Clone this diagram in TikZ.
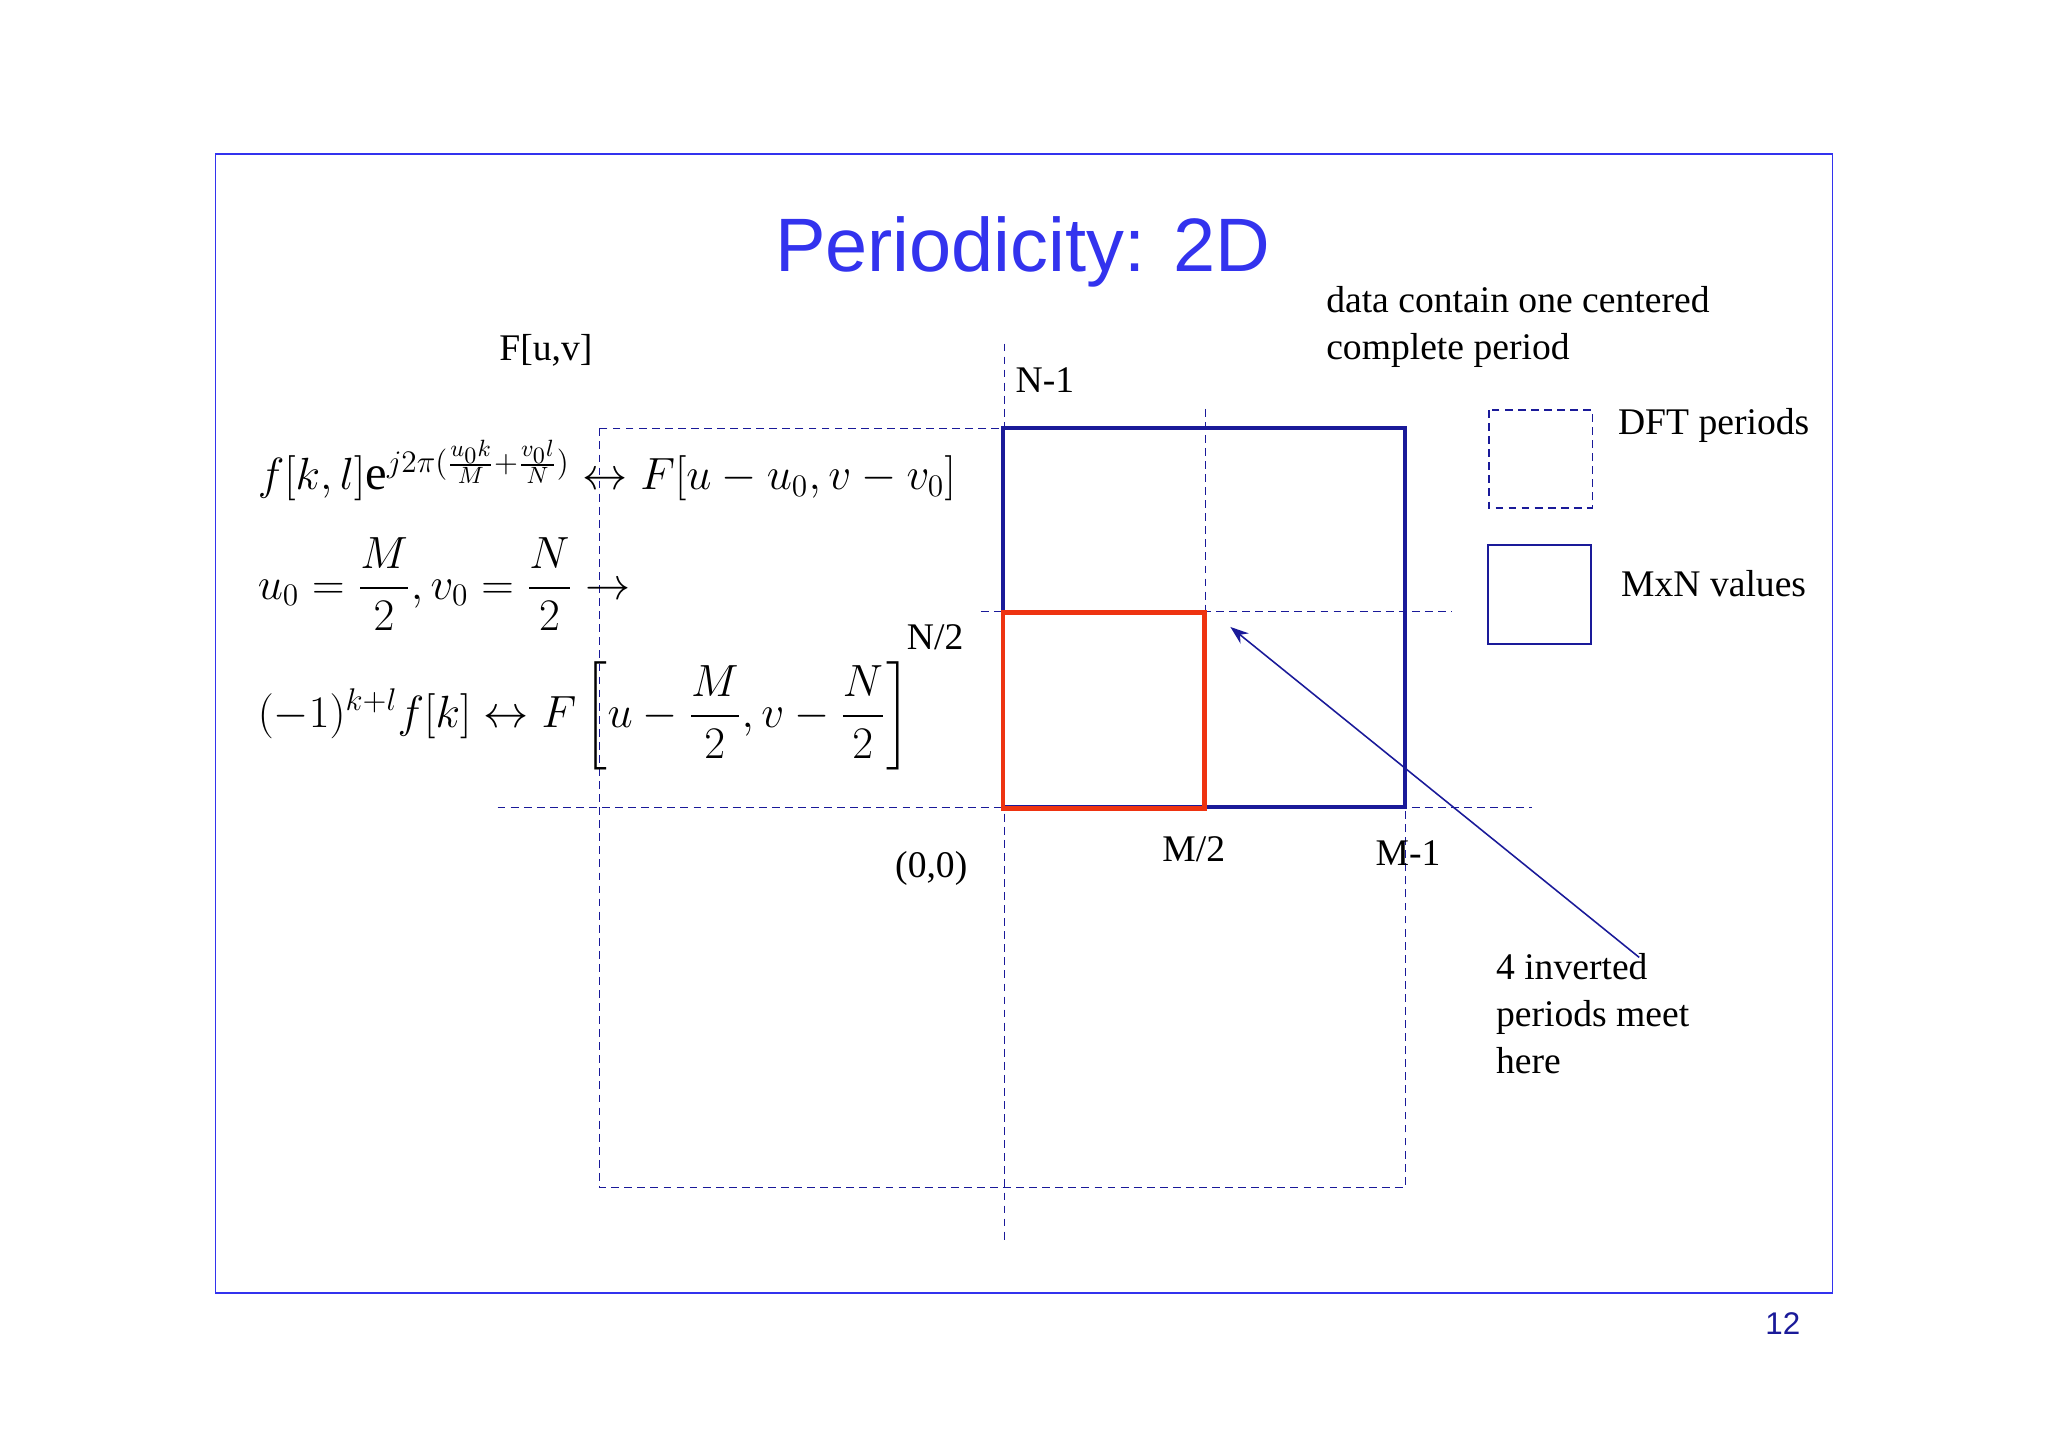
\documentclass[tikz,border=0pt]{standalone}
\usepackage{amsmath}
\usepackage{fontspec}
\setmainfont{Liberation Serif}
\newfontfamily\titlefont{Liberation Sans}
\usetikzlibrary{arrows.meta}
\definecolor{ttl}{HTML}{3333EE}
\definecolor{navy}{HTML}{1A1A99}
\definecolor{redb}{HTML}{EE3311}
\tikzset{
 dsh/.style={draw=navy, densely dashed, line width=0.5pt},
 lbl/.style={font=\fontsize{14.4}{17}\selectfont, inner sep=0pt},
 eq/.style={font=\fontsize{18.6}{22}\selectfont, inner sep=0pt, anchor=west},
}
\begin{document}
\begin{tikzpicture}[x=0.5pt,y=-0.5pt]
\useasboundingbox (0,0) rectangle (1568,1108);
\draw[ttl, line width=0.6pt] (165,118) rectangle (1403,990);
\node[font=\titlefont\fontsize{29}{34}\selectfont, text=ttl] (title) at (783,193) {Periodicity: 2D};
\node[font=\titlefont\fontsize{12}{14}\selectfont, text=navy] (pg) at (1365,1013) {12};
% dashed grid
\draw[dsh] (459,328) rectangle (1076,909);
\coordinate (v1a) at (769,263); \coordinate (v1b) at (769,950);
\coordinate (v2a) at (923,313); \coordinate (v2b) at (923,620);
\coordinate (h1a) at (381,618); \coordinate (h1b) at (1173,618);
\coordinate (h2a) at (751,468); \coordinate (h2b) at (1112,468);
\draw[dsh] (v1a)--(v1b); \draw[dsh] (v2a)--(v2b);
\draw[dsh] (h1a)--(h1b); \draw[dsh] (h2a)--(h2b);
% boxes
\draw[navy, line width=1.5pt] (768,328) rectangle (1076,618);
\draw[redb, line width=1.8pt] (768,469) rectangle (922,619);
% legend
\draw[dsh] (1140,314) rectangle (1219,389);
\node[lbl] (l1) at (1312,326) {DFT periods};
\draw[navy, line width=0.7pt] (1139,417) rectangle (1218,493);
\node[lbl] (l2) at (1312,447) {MxN values};
% labels
\node[lbl] (n1) at (800,291) {N-1};
\node[lbl] (n2) at (716,488) {N/2};
\node[lbl] (o) at (713,665) {(0,0)};
\node[lbl] (m2) at (914,650) {M/2};
\node[lbl] (m1) at (1078,653) {M-1};
\node[lbl] (F) at (418,268) {F[u,v]};
\node[lbl, anchor=west, align=left] (data) at (1015,250) {data contain one centered\\[1pt]complete period};
\node[lbl, anchor=west, align=left] (inv) at (1145,776) {4 inverted\\[1pt]periods meet\\[1pt]here};
\coordinate (as) at (1255,733); \coordinate (ae) at (942,480);
\draw[navy, line width=0.6pt, -{Stealth[length=7pt,width=5pt]}] (as)--(ae);
% equations
\node[eq] (e1) at (197,360) {$f[k,l]\mathrm{e}^{j2\pi(\frac{u_0k}{M}+\frac{v_0l}{N})}\leftrightarrow F[u-u_0,v-v_0]$};
\node[eq] (e2) at (197,447) {$u_0=\dfrac{M}{2},v_0=\dfrac{N}{2}\rightarrow$};
\node[eq] (e3) at (197,548) {$(-1)^{k+l}f[k]\leftrightarrow F\left[u-\dfrac{M}{2},v-\dfrac{N}{2}\right]$};
\end{tikzpicture}
\end{document}
